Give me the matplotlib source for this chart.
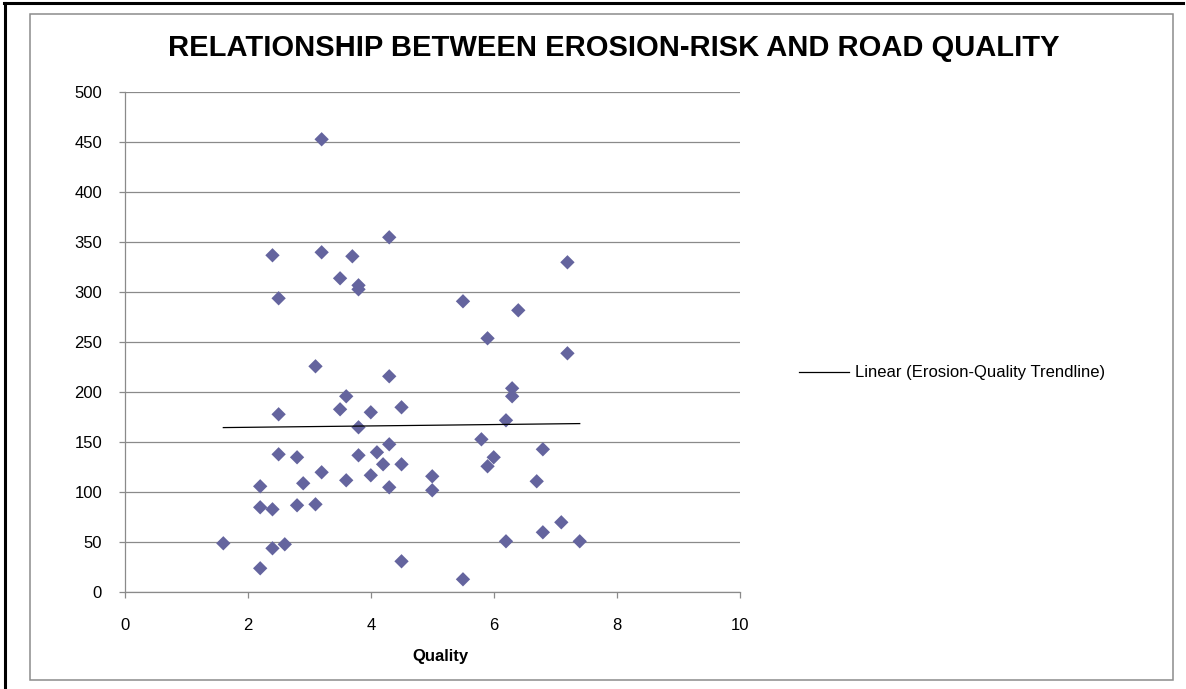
import numpy as np
import matplotlib.pyplot as plt
from matplotlib.lines import Line2D
from matplotlib.patches import Rectangle

plt.rcParams['font.family'] = ['Liberation Sans', 'DejaVu Sans']

# road quality score vs erosion risk, one point per road segment
quality = [3.2, 2.4, 3.2, 3.7, 4.3, 3.5, 3.8, 3.8, 2.5, 5.5,
           6.4, 7.2, 5.9, 7.2, 3.1, 4.3, 6.3, 6.3, 3.6, 3.5,
           4.0, 4.5, 2.5, 6.2, 3.8, 5.8, 4.3, 6.8, 4.1, 2.5,
           3.8, 2.8, 6.0, 4.2, 4.5, 5.9, 3.2, 4.0, 5.0, 3.6,
           6.7, 2.9, 2.2, 4.3, 5.0, 3.1, 2.8, 2.2, 2.4, 7.1,
           6.8, 6.2, 7.4, 1.6, 2.6, 2.4, 4.5, 2.2, 5.5]
erosion = [453, 337, 340, 336, 355, 314, 307, 303, 294, 291,
           282, 330, 254, 239, 226, 216, 204, 196, 196, 183,
           180, 185, 178, 172, 165, 153, 148, 143, 140, 138,
           137, 135, 135, 128, 128, 126, 120, 117, 116, 112,
           111, 109, 106, 105, 102, 88, 87, 85, 83, 70,
           60, 51, 51, 49, 48, 44, 31, 24, 13]

x_ticks = [0, 2, 4, 6, 8, 10]
y_ticks = list(range(0, 501, 50))

W, H = 1186, 689
fig = plt.figure(figsize=(W / 100, H / 100), dpi=100)

def fx(px):
    return px / W

def fy(py):
    return 1 - py / H

# outer page border (top and left) and the chart frame
fig.add_artist(Line2D([fx(4), fx(1183)], [fy(3), fy(3)], color='black', lw=2.2))
fig.add_artist(Line2D([fx(5), fx(5)], [fy(3), fy(689)], color='black', lw=2.2))
fig.add_artist(Rectangle((fx(30), fy(680)), fx(1173) - fx(30), fy(14) - fy(680),
                         fill=False, edgecolor='#8c8c8c', lw=1.1))

ax = fig.add_axes([fx(125), fy(592.3), fx(739.5) - fx(125), fy(92.3) - fy(592.3)])

ax.scatter(quality, erosion, marker='D', s=7.3 ** 2, color='#64649e',
           edgecolors='none', zorder=3)

# linear trendline across the range of the data
q = np.array(quality)
slope, icpt = np.polyfit(q, np.array(erosion), 1)
xs = np.array([q.min(), q.max()])
ax.plot(xs, slope * xs + icpt, color='black', lw=0.9, zorder=4,
        label='Linear (Erosion-Quality Trendline)')

ax.set_xlim(0, 10)
ax.set_ylim(0, 500)
ax.set_xticks(x_ticks)
ax.set_yticks(y_ticks)
ax.yaxis.grid(True, color='#8a8a8a', lw=0.9)
ax.set_axisbelow(True)
for s in ['top', 'right']:
    ax.spines[s].set_visible(False)
for s in ['left', 'bottom']:
    ax.spines[s].set_color('#8a8a8a')
    ax.spines[s].set_linewidth(0.9)
ax.tick_params(axis='y', length=4.5, width=0.9, color='#8a8a8a', pad=12, labelsize=12)
ax.tick_params(axis='x', length=4.5, width=0.9, color='#8a8a8a', pad=14, labelsize=12)

fig.text(fx(613.5), fy(47.5), 'RELATIONSHIP BETWEEN EROSION-RISK AND ROAD QUALITY',
         ha='center', va='center', fontsize=21, fontweight='bold')
fig.text(fx(440), fy(656), 'Quality', ha='center', va='center',
         fontsize=12, fontweight='bold')

fig.legend(loc='center left', bbox_to_anchor=(fx(792), fy(373)), frameon=False,
           fontsize=12, handlelength=3.0, handletextpad=0.4, borderaxespad=0)

fig.savefig('out.png', dpi=100)
